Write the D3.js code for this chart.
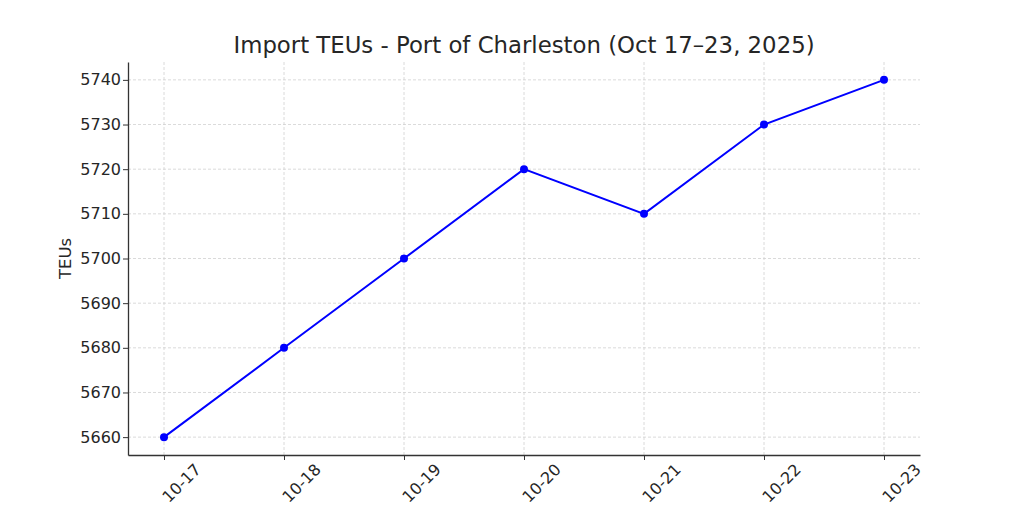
<!DOCTYPE html>
<html>
<head>
<meta charset="utf-8">
<script src="https://cdn.jsdelivr.net/npm/d3@7"></script>
<style>
  body { margin: 0; background: #fff; }
  text { font-family: "DejaVu Sans", sans-serif; fill: #262626; }
</style>
</head>
<body>
<svg></svg>
<script>
const width = 1024;
const height = 512;
const margin = { top: 62, right: 104, bottom: 57, left: 128 };

const dates = ["10-17", "10-18", "10-19", "10-20", "10-21", "10-22", "10-23"];
const teus = [5660, 5680, 5700, 5720, 5710, 5730, 5740];
const yTicks = [5660, 5670, 5680, 5690, 5700, 5710, 5720, 5730, 5740];

let svg = d3.select("svg")
    .attr("width", width)
    .attr("height", height)

let xScale = d3.scaleLinear()
    .domain([-0.3, dates.length - 1 + 0.3])
    .range([margin.left, width - margin.right])
let yScale = d3.scaleLinear()
    .domain([5656, 5744])
    .range([height - margin.bottom, margin.top])

// grid
svg.append("g")
    .selectAll("line")
    .data(yTicks)
    .join("line")
    .attr("x1", margin.left)
    .attr("x2", width - margin.right)
    .attr("y1", d => yScale(d))
    .attr("y2", d => yScale(d))
    .attr("stroke", "#d0d0d0")
    .attr("stroke-width", 0.8)
    .attr("stroke-dasharray", "3,2")
svg.append("g")
    .selectAll("line")
    .data(dates)
    .join("line")
    .attr("x1", (d, i) => xScale(i))
    .attr("x2", (d, i) => xScale(i))
    .attr("y1", margin.top)
    .attr("y2", height - margin.bottom)
    .attr("stroke", "#d0d0d0")
    .attr("stroke-width", 0.8)
    .attr("stroke-dasharray", "3,2")

// axes
let xAxis = svg.append("g")
    .attr("transform", `translate(0, ${height - margin.bottom})`)
    .call(d3.axisBottom(xScale)
        .tickValues(d3.range(dates.length))
        .tickFormat(i => dates[i])
        .tickSize(5)
        .tickSizeOuter(0))
xAxis.select(".domain").attr("stroke", "#333").attr("stroke-width", 1.3)
xAxis.selectAll(".tick line").attr("stroke", "#333")
xAxis.selectAll("text")
    .style("font-size", "16px")
    .attr("fill", "#1a1a1a")
    .attr("x", 0)
    .attr("y", 0)
    .attr("dy", "0.35em")
    .attr("transform", "translate(17, 28) rotate(-45)")
    .style("text-anchor", "middle")

let yAxis = svg.append("g")
    .attr("transform", `translate(${margin.left}, 0)`)
    .call(d3.axisLeft(yScale)
        .tickValues(yTicks)
        .tickFormat(d3.format("d"))
        .tickSize(5)
        .tickSizeOuter(0))
yAxis.select(".domain").attr("stroke", "#333").attr("stroke-width", 1.3)
yAxis.selectAll(".tick line").attr("stroke", "#333")
yAxis.selectAll("text")
    .style("font-size", "16px")
    .attr("fill", "#1a1a1a")
    .attr("x", -7)

// line
let line = d3.line()
    .x((d, i) => xScale(i))
    .y(d => yScale(d))
svg.append("path")
    .datum(teus)
    .attr("d", line)
    .attr("fill", "none")
    .attr("stroke", "#0000ff")
    .attr("stroke-width", 2)
svg.append("g")
    .selectAll("circle")
    .data(teus)
    .join("circle")
    .attr("cx", (d, i) => xScale(i))
    .attr("cy", d => yScale(d))
    .attr("r", 4)
    .attr("fill", "#0000ff")

// labels
svg.append("text")
    .attr("x", (margin.left + width - margin.right) / 2)
    .attr("y", 53)
    .style("text-anchor", "middle")
    .style("font-size", "22.8px")
    .attr("fill", "#333")
    .text("Import TEUs - Port of Charleston (Oct 17–23, 2025)")

svg.append("text")
    .attr("transform", "rotate(-90)")
    .attr("x", -(margin.top + height - margin.bottom) / 2)
    .attr("y", 71)
    .style("text-anchor", "middle")
    .style("font-size", "16.5px")
    .text("TEUs")
</script>
</body>
</html>
